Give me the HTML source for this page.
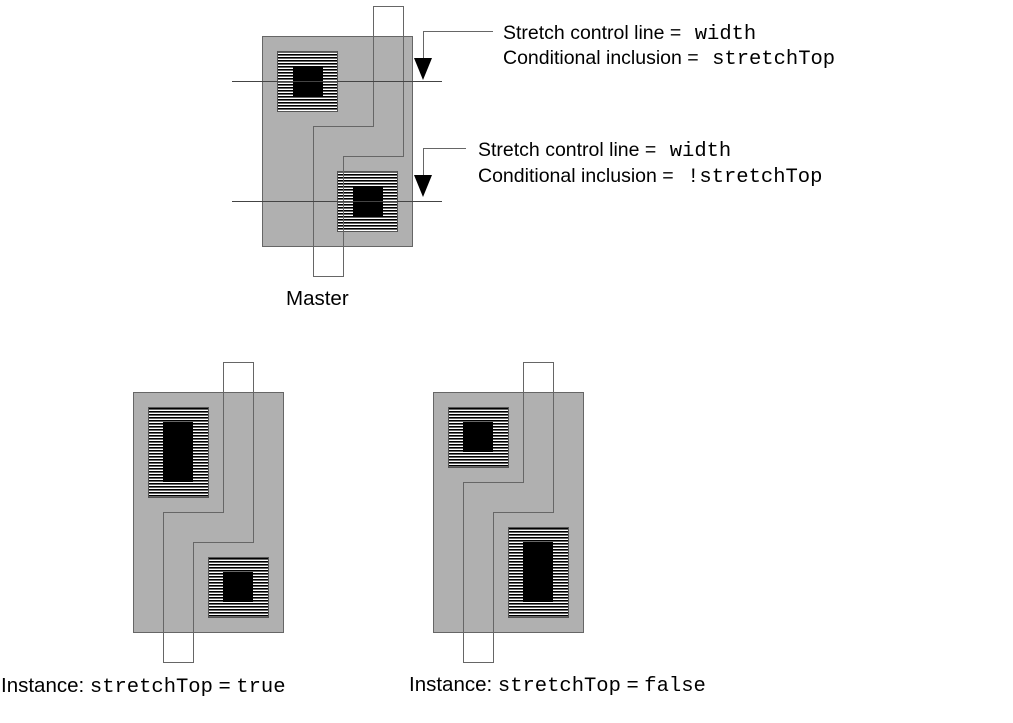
<!DOCTYPE html>
<html><head><meta charset="utf-8"><style>
html,body{margin:0;padding:0;background:#fff;}
svg{display:block}
.t{font-family:"Liberation Sans",sans-serif;font-size:19.5px;fill:#000}
.m{font-family:"Liberation Mono",monospace;font-size:20.5px}
</style></head><body>
<svg width="1013" height="723" viewBox="0 0 1013 723" xmlns="http://www.w3.org/2000/svg">
<defs>
<pattern id="h" width="4" height="3" patternUnits="userSpaceOnUse">
<rect width="4" height="3" fill="#fff"/><rect width="4" height="1.6" fill="#000"/>
</pattern>
</defs>
<g stroke="#666" stroke-width="1" fill="none">
<rect x="262.5" y="36.5" width="150" height="210" fill="#b0b0b0"/>
<rect x="277.5" y="51.5" width="60" height="60" fill="url(#h)" stroke="#555"/>
<rect x="293" y="66" width="30" height="30" fill="#000" stroke="none"/>
<rect x="337.5" y="171.5" width="60" height="60" fill="url(#h)" stroke="#555"/>
<rect x="353" y="186" width="30" height="30" fill="#000" stroke="none"/>
<path d="M313.5 276.5V126.5H373.5V6.5H403.5V156.5H343.5V276.5Z"/>
<line x1="232" y1="81.5" x2="442" y2="81.5" stroke="#444"/>
<line x1="232" y1="201.5" x2="442" y2="201.5" stroke="#444"/>
<path d="M493 31.5H423.5V60"/>
<path d="M466 148.5H423.5V177"/>
<rect x="133.5" y="392.5" width="150" height="240" fill="#b0b0b0"/>
<rect x="148.5" y="407.5" width="60" height="90" fill="url(#h)" stroke="#555"/>
<rect x="163" y="422" width="30" height="60" fill="#000" stroke="none"/>
<rect x="208.5" y="557.5" width="60" height="60" fill="url(#h)" stroke="#555"/>
<rect x="223" y="572" width="30" height="30" fill="#000" stroke="none"/>
<path d="M163.5 662.5V512.5H223.5V362.5H253.5V542.5H193.5V662.5Z"/>
<rect x="433.5" y="392.5" width="150" height="240" fill="#b0b0b0"/>
<rect x="448.5" y="407.5" width="60" height="60" fill="url(#h)" stroke="#555"/>
<rect x="463" y="422" width="30" height="30" fill="#000" stroke="none"/>
<rect x="508.5" y="527.5" width="60" height="90" fill="url(#h)" stroke="#555"/>
<rect x="523" y="542" width="30" height="60" fill="#000" stroke="none"/>
<path d="M463.5 662.5V482.5H523.5V362.5H553.5V512.5H493.5V662.5Z"/>
</g>
<polygon points="414,58 432,58 423,80" fill="#000"/>
<polygon points="414,175 432,175 423,197" fill="#000"/>
<text class="t" x="503" y="39">Stretch control line = <tspan class="m" dx="8">width</tspan></text>
<text class="t" x="503" y="64">Conditional inclusion = <tspan class="m" dx="8">stretchTop</tspan></text>
<text class="t" x="478" y="156">Stretch control line = <tspan class="m" dx="8">width</tspan></text>
<text class="t" x="478" y="182">Conditional inclusion = <tspan class="m" dx="8">!stretchTop</tspan></text>
<text class="t" x="286" y="305" style="font-size:20.5px">Master</text>
<text class="t" x="1" y="692" style="font-size:20.5px">Instance: <tspan class="m">stretchTop</tspan> = <tspan class="m">true</tspan></text>
<text class="t" x="409" y="691" style="font-size:20.5px">Instance: <tspan class="m">stretchTop</tspan> = <tspan class="m">false</tspan></text>
</svg>
</body></html>
